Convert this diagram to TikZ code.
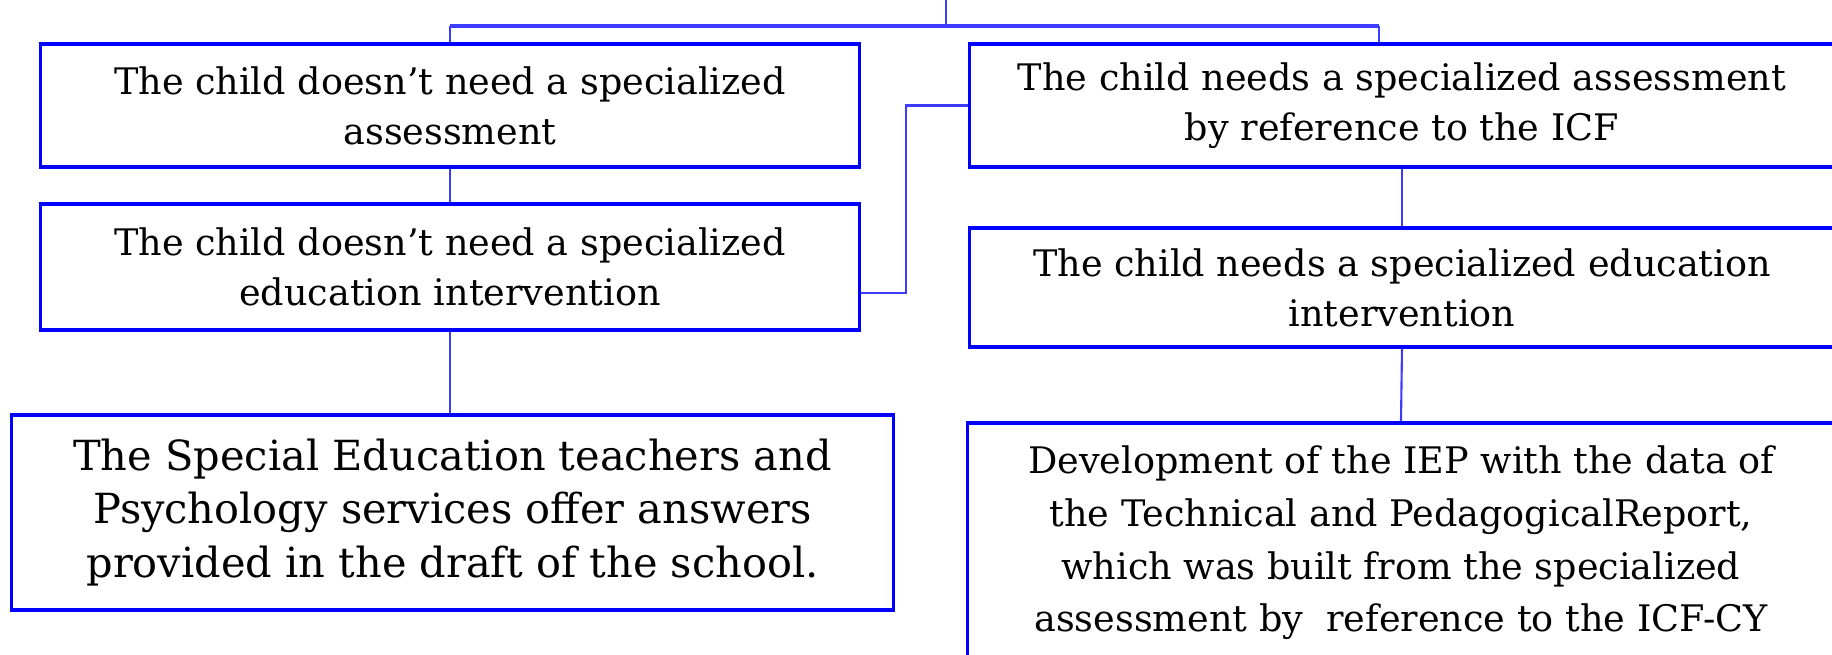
\documentclass[tikz,border=0pt]{standalone}
\usepackage{fontspec}
\setmainfont{DejaVu Serif}
\usetikzlibrary{positioning}
\definecolor{linkblue}{RGB}{60,60,255}

\begin{document}
\begin{tikzpicture}[x=0.01cm,y=-0.01cm,
	box/.style={draw=blue,line width=0.9pt,align=center,inner sep=0pt,font=\fontsize{10.4}{14.2}\selectfont},
	link/.style={draw=linkblue,line width=0.6pt}]
	\useasboundingbox (0,0) rectangle (1832,654);

	\node[box,minimum width=8.18cm,minimum height=1.23cm] (noassess) at (450,105.5) {The child doesn’t need a specialized\\assessment};
	\node[box,minimum width=8.18cm,minimum height=1.26cm] (nointerv) at (450,267) {The child doesn’t need a specialized\\education intervention};
	\node[box,minimum width=8.81cm,minimum height=1.95cm,font=\fontsize{11.8}{15.2}\selectfont] (services) at (452.5,512.5) {The Special Education teachers and\\Psychology services offer answers\\provided in the draft of the school.};

	\node[box,minimum width=8.64cm,minimum height=1.23cm] (assess) at (1402,105.5) {The child needs a specialized assessment\\by reference to the ICF};
	\node[box,minimum width=8.64cm,minimum height=1.19cm] (interv) at (1402,287.5) {The child needs a specialized education\\intervention};
	\node[box,minimum width=8.66cm,minimum height=2.40cm,font=\fontsize{10.4}{15}\selectfont] (iep) at (1401,543) {Development of the IEP with the data of\\the Technical and PedagogicalReport,\\which was built from the specialized\\assessment by~ reference to the ICF-CY};

	\coordinate (root) at (946,0);
	\coordinate (hub) at (946,26);
	\coordinate (dtop) at ([xshift=-0.23cm]assess.north);
	\draw[link] (root) -- (hub);
	\draw[link,line width=1.1pt] (noassess.north |- hub) -- (dtop |- hub);
	\draw[link] (noassess.north) -- (noassess.north |- hub);
	\draw[link] (dtop) -- (dtop |- hub);
	\draw[link] (noassess.south) -- (nointerv.north);
	\draw[link] (nointerv.south) -- (nointerv.south |- services.north);
	\draw[link] ([yshift=-0.26cm]nointerv.east) -- ++(45,0) |- (assess.west);
	\draw[link] (assess.south) -- (interv.north);
	\draw[link] (interv.south) -- (iep.north);
\end{tikzpicture}
\end{document}
